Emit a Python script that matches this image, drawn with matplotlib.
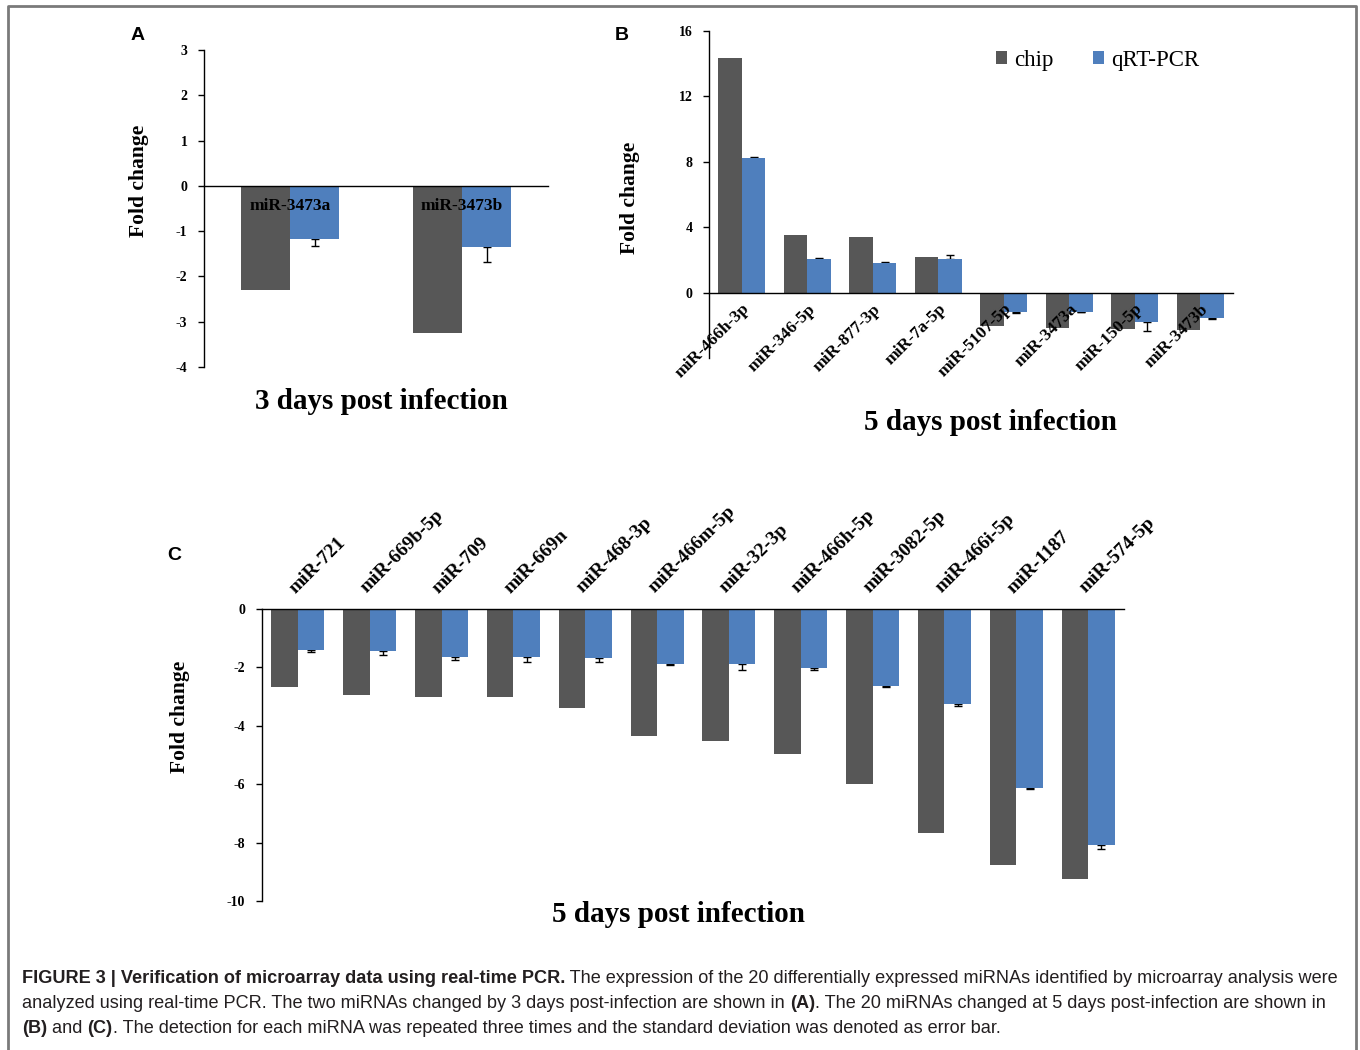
import numpy as np
import matplotlib
matplotlib.use('Agg')
from matplotlib import pyplot as plt

# panel A - 3 days post infection
cats_a = ['miR-3473a', 'miR-3473b']
chip_a = [-2.29, -3.24]
qpcr_a = [-1.18, -1.36]
err_a = [0.14, 0.32]

# panel B - 5 days post infection
cats_b = ['miR-466h-3p', 'miR-346-5p', 'miR-877-3p', 'miR-7a-5p',
          'miR-5107-5p', 'miR-3473a', 'miR-150-5p', 'miR-3473b']
chip_b = [14.33, 3.52, 3.42, 2.18, -2.04, -2.18, -2.22, -2.26]
qpcr_b = [8.26, 2.08, 1.81, 2.08, -1.16, -1.16, -1.77, -1.53]
err_b = [0.03, 0.05, 0.04, 0.24, 0.10, 0.02, 0.58, 0.10]

# panel C - 5 days post infection
cats_c = ['miR-721', 'miR-669b-5p', 'miR-709', 'miR-669n', 'miR-468-3p',
          'miR-466m-5p', 'miR-32-3p', 'miR-466h-5p', 'miR-3082-5p',
          'miR-466i-5p', 'miR-1187', 'miR-574-5p']
chip_c = [-2.68, -2.93, -3.0, -3.0, -3.40, -4.34, -4.53, -4.96, -6.0, -7.66, -8.77, -9.25]
qpcr_c = [-1.40, -1.43, -1.63, -1.63, -1.68, -1.90, -1.87, -2.02, -2.62, -3.25, -6.13, -8.07]
err_c = [0.06, 0.16, 0.12, 0.20, 0.12, 0.03, 0.22, 0.07, 0.06, 0.06, 0.03, 0.16]

yticks_a = [-4, -3, -2, -1, 0, 1, 2, 3]
yticks_b = [0, 4, 8, 12, 16]
yticks_c = [-10, -8, -6, -4, -2, 0]

CHIP = '#575757'
QPCR = '#4f7fbd'
SERIF = 'Liberation Serif'
SANS = 'Liberation Sans'

plt.rcParams['axes.unicode_minus'] = False

W, H = 1360, 1050
fig = plt.figure(figsize=(W / 100, H / 100), dpi=100)


def px_rect(left, top, right, bottom):
    return [left / W, 1 - bottom / H, (right - left) / W, (bottom - top) / H]


def bar_panel(rect, cats, chip, qpcr, err, width, ylim, yticks):
    ax = fig.add_axes(rect)
    x = np.arange(len(cats))
    ax.bar(x - width / 2, chip, width, color=CHIP, zorder=2, label='chip')
    ax.bar(x + width / 2, qpcr, width, color=QPCR, zorder=2, label='qRT-PCR')
    # one sided error bars, pointing away from zero
    lo = [e if v < 0 else 0 for v, e in zip(qpcr, err)]
    hi = [e if v > 0 else 0 for v, e in zip(qpcr, err)]
    ax.errorbar(x + width / 2, qpcr, yerr=[lo, hi], fmt='none', ecolor='black',
                elinewidth=1, capsize=3, capthick=1, zorder=1)
    ax.set_axisbelow(False)  # category labels sit on top of the bars
    ax.set_xlim(-0.5, len(cats) - 0.5)
    ax.set_ylim(*ylim)
    ax.set_yticks(yticks)
    ax.set_yticklabels([str(t) for t in yticks], fontfamily=SERIF,
                       fontweight='bold', fontsize=10)
    ax.tick_params(axis='y', direction='out', length=4, width=1, pad=8)
    ax.tick_params(axis='x', length=0)
    ax.spines['right'].set_visible(False)
    for s in ax.spines.values():
        s.set_linewidth(1)
    ax.set_xticks(x)
    return ax


# A
ax_a = bar_panel(px_rect(204, 50, 548, 367), cats_a, chip_a, qpcr_a, err_a,
                 0.287, (-4, 3), yticks_a)
ax_a.spines['top'].set_visible(False)
ax_a.spines['bottom'].set_position(('data', 0))
ax_a.set_xticklabels(cats_a, fontfamily=SERIF, fontweight='bold', fontsize=12.5)
ax_a.tick_params(axis='x', pad=9)

# B
ax_b = bar_panel(px_rect(709, 31, 1233, 358), cats_b, chip_b, qpcr_b, err_b,
                 0.36, (-4, 16), yticks_b)
ax_b.spines['top'].set_visible(False)
ax_b.spines['bottom'].set_position(('data', 0))
ax_b.set_xticklabels(cats_b, fontfamily=SERIF, fontweight='bold', fontsize=12.5,
                     rotation=45, ha='right', va='top', rotation_mode='anchor')
ax_b.tick_params(axis='x', pad=6)
ax_b.legend(loc='upper left', bbox_to_anchor=(996 / W, 1 - 50 / H),
            bbox_transform=fig.transFigure, ncol=2, frameon=False,
            handlelength=0.5, handleheight=0.5, handletextpad=0.3,
            columnspacing=1.7, borderpad=0, borderaxespad=0,
            prop={'family': SERIF, 'size': 16.5})

# C
ax_c = bar_panel(px_rect(262, 609, 1124, 901), cats_c, chip_c, qpcr_c, err_c,
                 0.37, (-10, 0), yticks_c)
ax_c.spines['bottom'].set_visible(False)
ax_c.xaxis.tick_top()
ax_c.set_xticklabels(cats_c, fontfamily=SERIF, fontweight='bold', fontsize=14,
                     rotation=45, ha='left', va='bottom', rotation_mode='anchor')
ax_c.tick_params(axis='x', pad=9)

# axis titles
for (cx, cy) in [(139, 181), (630, 198), (180, 717)]:
    fig.text(cx / W, 1 - cy / H, 'Fold change', rotation=90, ha='center', va='center',
             fontfamily=SERIF, fontweight='bold', fontsize=15.5)
fig.text(381 / W, 1 - 402 / H, '3 days post infection', ha='center', va='center',
         fontfamily=SERIF, fontweight='bold', fontsize=21)
fig.text(990 / W, 1 - 423 / H, '5 days post infection', ha='center', va='center',
         fontfamily=SERIF, fontweight='bold', fontsize=21)
fig.text(678 / W, 1 - 915 / H, '5 days post infection', ha='center', va='center',
         fontfamily=SERIF, fontweight='bold', fontsize=21)

# panel letters
for letter, (lx, ly) in zip('ABC', [(138, 35), (622, 35), (174, 556)]):
    fig.text(lx / W, 1 - ly / H, letter, ha='center', va='center',
             fontfamily=SANS, fontweight='bold', fontsize=14)

# frame and caption
bg = fig.add_axes([0, 0, 1, 1], zorder=-5)
bg.axis('off')
bg.set_xlim(0, W)
bg.set_ylim(H, 0)
bg.plot([8, 8, 1356, 1356], [H, 6, 6, H], color='#7a7a7a', lw=2, clip_on=False)

cap_lines = [
    [('FIGURE 3 | Verification of microarray data using real-time PCR.', True),
     (' The expression of the 20 differentially expressed miRNAs identified by microarray analysis were', False)],
    [('analyzed using real-time PCR. The two miRNAs changed by 3 days post-infection are shown in ', False),
     ('(A)', True),
     ('. The 20 miRNAs changed at 5 days post-infection are shown in', False)],
    [('(B)', True), (' and ', False), ('(C)', True),
     ('. The detection for each miRNA was repeated three times and the standard deviation was denoted as error bar.', False)],
]
cap_size = 13.1
for i, parts in enumerate(cap_lines):
    y = 987 + i * 25
    prev = bg.text(22, y, parts[0][0], ha='left', va='bottom', fontfamily=SANS,
                   fontweight='bold' if parts[0][1] else 'normal', fontsize=cap_size,
                   color='#231f20')
    for s, b in parts[1:]:
        prev = bg.annotate(s, xy=(1, 0), xycoords=prev, ha='left', va='bottom',
                           fontfamily=SANS, fontweight='bold' if b else 'normal',
                           fontsize=cap_size, color='#231f20')

fig.savefig('out.png', dpi=100)
